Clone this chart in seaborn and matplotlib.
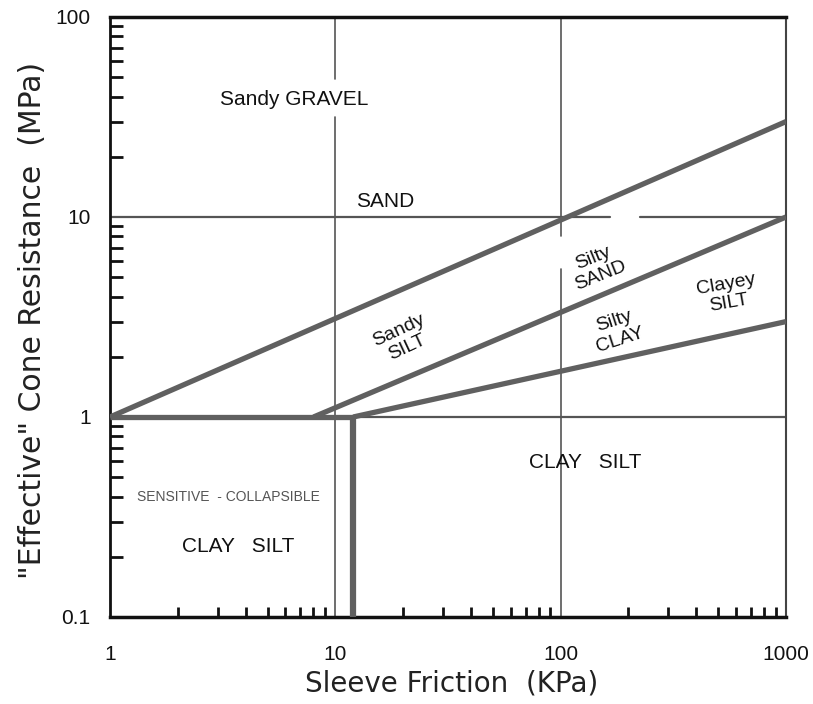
import matplotlib
matplotlib.use("Agg")
import matplotlib.pyplot as plt
import seaborn as sns
import pandas as pd
from matplotlib.ticker import LogLocator, NullFormatter

# ---- axis ticks ----
x_ticks = [1, 10, 100, 1000]
x_tick_labels = ["1", "10", "100", "1000"]
y_ticks = [0.1, 1, 10, 100]
y_tick_labels = ["0.1", "1", "10", "100"]

# ---- zone boundaries (sleeve friction kPa, cone resistance MPa) ----
gravel_sand_x = [1, 1000]
gravel_sand_y = [1, 30]
sand_silt_x = [8, 1000]
sand_silt_y = [1, 10]
silt_clay_x = [12, 1000]
silt_clay_y = [1, 3]
sensitive_top_x = [1, 12]
sensitive_top_y = [1, 1]
sensitive_side_x = [12, 12]
sensitive_side_y = [0.1, 1]

# ---- reference lines, broken where labels sit ----
ref_v10_x = [[10, 10], [10, 10]]
ref_v10_y = [[0.1, 31.8], [49, 100]]
ref_v100_x = [[100, 100], [100, 100]]
ref_v100_y = [[0.1, 5.5], [8, 100]]
ref_h10_x = [[1, 166], [225, 1000]]
ref_h10_y = [[10, 10], [10, 10]]
ref_h1_x = [[12, 1000]]
ref_h1_y = [[1, 1]]

# ---- zone labels ----
zone_text = ["Sandy GRAVEL", "SAND", "Sandy\nSILT", "Silty\nSAND", "Silty\nCLAY",
             "Clayey\nSILT", "CLAY   SILT", "SENSITIVE  - COLLAPSIBLE", "CLAY   SILT"]
zone_x = [6.6, 16.6, 20, 145, 178, 549, 128, 3.34, 3.7]
zone_y = [38.7, 11.9, 2.46, 5.6, 2.7, 4.13, 0.595, 0.398, 0.226]
zone_rot = [0, 0, 25, 22, 18, 10, 0, 0, 0]
zone_size = [15, 15, 14, 14, 14, 14, 15, 10, 15]
zone_color = ["#111111"] * 7 + ["#555555", "#111111"]

sns.set_theme(style="white")
plt.rcParams["font.family"] = ["Liberation Sans", "DejaVu Sans"]

fig, ax = plt.subplots(figsize=(8.13, 7.04), dpi=100)
fig.subplots_adjust(left=110 / 813, right=786 / 813, top=1 - 17 / 704, bottom=1 - 617 / 704)
ax.set_xscale("log")
ax.set_yscale("log")

thin_color = "#555555"
for xs_list, ys_list, lw in [(ref_v10_x, ref_v10_y, 1.2), (ref_v100_x, ref_v100_y, 1.2),
                             (ref_h10_x, ref_h10_y, 1.6), (ref_h1_x, ref_h1_y, 1.6)]:
    for xs, ys in zip(xs_list, ys_list):
        sns.lineplot(x=xs, y=ys, ax=ax, color=thin_color, lw=lw,
                     estimator=None, sort=False, zorder=2)

thick_color = "#606060"
for xs, ys, lw in [(gravel_sand_x, gravel_sand_y, 3.8), (sand_silt_x, sand_silt_y, 3.8),
                   (silt_clay_x, silt_clay_y, 3.8), (sensitive_top_x, sensitive_top_y, 3.8),
                   (sensitive_side_x, sensitive_side_y, 4.5)]:
    df = pd.DataFrame({"x": xs, "y": ys})
    sns.lineplot(data=df, x="x", y="y", ax=ax, color=thick_color, lw=lw,
                 estimator=None, sort=False, zorder=3, solid_capstyle="butt")

for t, x, y, r, s, c in zip(zone_text, zone_x, zone_y, zone_rot, zone_size, zone_color):
    ax.text(x, y, t, rotation=r, fontsize=s, color=c, ha="center", va="center",
            multialignment="center", linespacing=1.15, rotation_mode="anchor", zorder=4)

ax.set_xlim(1, 1000)
ax.set_ylim(0.1, 100)
ax.set_xticks(x_ticks, x_tick_labels)
ax.set_yticks(y_ticks, y_tick_labels)
ax.xaxis.set_minor_locator(LogLocator(base=10, subs=range(2, 10)))
ax.yaxis.set_minor_locator(LogLocator(base=10, subs=range(2, 10)))
ax.xaxis.set_minor_formatter(NullFormatter())
ax.yaxis.set_minor_formatter(NullFormatter())

ax.tick_params(axis="x", which="major", length=0, pad=20, labelsize=15, colors="#111111")
ax.tick_params(axis="y", which="major", length=0, pad=14, labelsize=15, colors="#111111")
ax.tick_params(axis="x", which="minor", direction="in", length=7, width=2, color="#111111",
               bottom=True, top=False)
ax.tick_params(axis="y", which="minor", direction="in", length=9, width=2, color="#111111",
               left=True, right=False)

for side, lw, col in [("top", 2.5, "#111111"), ("left", 2.0, "#111111"),
                      ("bottom", 2.5, "#111111"), ("right", 1.5, "#444444")]:
    ax.spines[side].set_visible(True)
    ax.spines[side].set_linewidth(lw)
    ax.spines[side].set_color(col)

ax.set_xlabel("Sleeve Friction  (KPa)", fontsize=20, color="#222222",
              family=["DejaVu Sans"])
ax.set_ylabel("\"Effective\" Cone Resistance  (MPa)", fontsize=21.5, color="#222222",
              family=["DejaVu Sans"])
ax.xaxis.set_label_coords(0.505, -0.088)
ax.yaxis.set_label_coords(-0.093, 0.495)

fig.savefig("out.png", dpi=100, facecolor="white")
